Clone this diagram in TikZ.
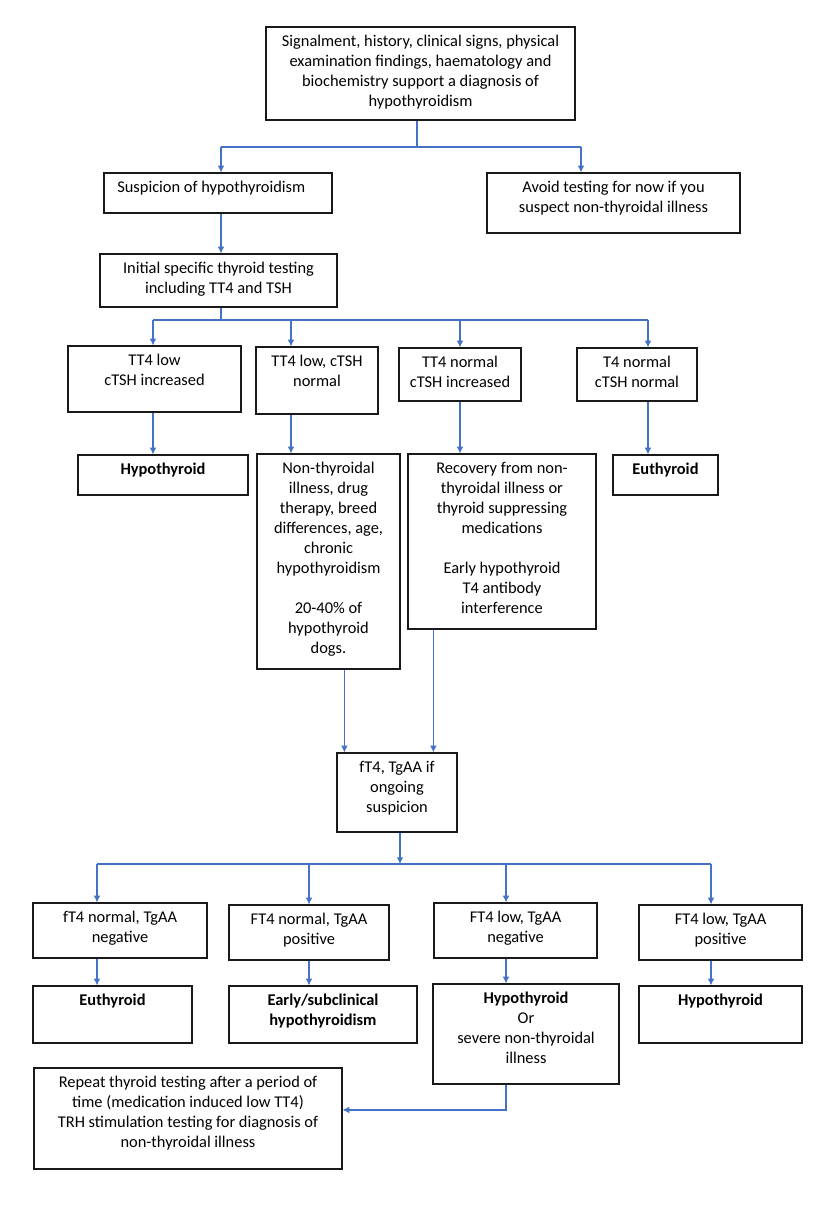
\documentclass[tikz,border=0pt]{standalone}
\usepackage{fontspec}
\setmainfont{Carlito}
\usepackage{tikz}
\usetikzlibrary{positioning,fit,arrows.meta}
\definecolor{flowblue}{RGB}{68,114,196}
\definecolor{boxline}{RGB}{25,25,25}

\begin{document}
\begin{tikzpicture}[
  x=0.75pt, y=-0.75pt,
  box/.style={draw=boxline,line width=0.9pt,inner sep=0pt},
  txt/.style={align=center,inner sep=0pt,font=\fontsize{12.3}{15}\selectfont},
  link/.style={draw=flowblue,line width=0.8pt},
  arr/.style={link,-{Latex[length=5pt,width=5pt]}}
]
  \useasboundingbox (0,0) rectangle (836,1208);

  % start and first split
  \node[box,fit={(266,27) (575,120)}] (signs) {};
  \node[txt,below=6.5pt of signs.north] (signs-t) {Signalment, history, clinical signs, physical\\examination findings, haematology and\\biochemistry support a diagnosis of\\hypothyroidism};
  \node[box,fit={(104,173) (332,213)}] (suspect) {};
  \node[txt,below=6.5pt of suspect.north,xshift=-5pt] (suspect-t) {Suspicion of hypothyroidism};
  \node[box,fit={(487,173) (740,233)}] (avoid) {};
  \node[txt,below=6.5pt of avoid.north] (avoid-t) {Avoid testing for now if you\\suspect non-thyroidal illness};
  \node[box,fit={(100,254) (337,307)}] (initial) {};
  \node[txt,below=6.5pt of initial.north] (initial-t) {Initial specific thyroid testing\\including TT4 and TSH};

  % TT4 / cTSH results
  \node[box,fit={(68,346) (241,412)}] (tlowhigh) {};
  \node[txt,below=6.5pt of tlowhigh.north] (tlowhigh-t) {TT4 low\\cTSH increased};
  \node[box,fit={(256,347) (378,414)}] (tlownorm) {};
  \node[txt,below=6.5pt of tlownorm.north] (tlownorm-t) {TT4 low, cTSH\\normal};
  \node[box,fit={(399,348) (521,401)}] (tnormhigh) {};
  \node[txt,below=6.5pt of tnormhigh.north] (tnormhigh-t) {TT4 normal\\cTSH increased};
  \node[box,fit={(577,348) (697,401)}] (tnormnorm) {};
  \node[txt,below=6.5pt of tnormnorm.north] (tnormnorm-t) {T4 normal\\cTSH normal};

  \node[box,fit={(78,455) (248,495)}] (hypo1) {};
  \node[txt,below=6.5pt of hypo1.north] (hypo1-t) {\textbf{Hypothyroid}};
  \node[box,fit={(257,454) (400,669)}] (causes) {};
  \node[txt,below=6.5pt of causes.north] (causes-t) {Non-thyroidal\\illness, drug\\therapy, breed\\differences, age,\\chronic\\hypothyroidism\\[15pt]20-40\% of\\hypothyroid\\dogs.};
  \node[box,fit={(408,454) (596,629)}] (recovery) {};
  \node[txt,below=6.5pt of recovery.north] (recovery-t) {Recovery from non-\\thyroidal illness or\\thyroid suppressing\\medications\\[15pt]Early hypothyroid\\T4 antibody\\interference};
  \node[box,fit={(613,455) (718,495)}] (euthyroid1) {};
  \node[txt,below=6.5pt of euthyroid1.north] (euthyroid1-t) {\textbf{Euthyroid}};

  % second line testing
  \node[box,fit={(337,753) (457,832)}] (ftest) {};
  \node[txt,below=6.5pt of ftest.north] (ftest-t) {fT4, TgAA if\\ongoing\\suspicion};

  \node[box,fit={(33,903) (207,958)}] (fnormneg) {};
  \node[txt,below=6.5pt of fnormneg.north] (fnormneg-t) {fT4 normal, TgAA\\negative};
  \node[box,fit={(229,905) (389,960)}] (fnormpos) {};
  \node[txt,below=6.5pt of fnormpos.north] (fnormpos-t) {FT4 normal, TgAA\\positive};
  \node[box,fit={(434,903) (597,958)}] (flowneg) {};
  \node[txt,below=6.5pt of flowneg.north] (flowneg-t) {FT4 low, TgAA\\negative};
  \node[box,fit={(639,905) (802,960)}] (flowpos) {};
  \node[txt,below=6.5pt of flowpos.north] (flowpos-t) {FT4 low, TgAA\\positive};

  \node[box,fit={(33,986) (192,1043)}] (euthyroid2) {};
  \node[txt,below=6.5pt of euthyroid2.north] (euthyroid2-t) {\textbf{Euthyroid}};
  \node[box,fit={(229,986) (417,1043)}] (early) {};
  \node[txt,below=6.5pt of early.north] (early-t) {\textbf{Early/subclinical}\\\textbf{hypothyroidism}};
  \node[box,fit={(433,984) (619,1084)}] (hypo2) {};
  \node[txt,below=6.5pt of hypo2.north] (hypo2-t) {\textbf{Hypothyroid}\\Or\\severe non-thyroidal\\illness};
  \node[box,fit={(639,986) (802,1043)}] (hypo3) {};
  \node[txt,below=6.5pt of hypo3.north] (hypo3-t) {\textbf{Hypothyroid}};

  \node[box,fit={(34,1068) (342,1169)}] (repeat) {};
  \node[txt,below=6.5pt of repeat.north] (repeat-t) {Repeat thyroid testing after a period of\\time (medication induced low TT4)\\TRH stimulation testing for diagnosis of\\non-thyroidal illness};

  % junctions
  \coordinate (j1) at (417,147);
  \coordinate (j1a) at (221,147);
  \coordinate (j1b) at (581,147);
  \coordinate (j2) at (221,320);
  \coordinate (j2a) at (153,320);
  \coordinate (j2b) at (291,320);
  \coordinate (j2c) at (460,320);
  \coordinate (j2d) at (648,320);
  \coordinate (j4) at (400,864);
  \coordinate (j4a) at (97,864);
  \coordinate (j4b) at (309,864);
  \coordinate (j4c) at (506,864);
  \coordinate (j4d) at (711,864);

  % connectors
  \draw[link] (signs.south -| j1) -- (j1);
  \draw[link] (j1a) -- (j1b);
  \draw[arr] (j1a) -- (j1a |- suspect.north);
  \draw[arr] (j1b) -- (j1b |- avoid.north);
  \draw[arr] (j1a |- suspect.south) -- (j1a |- initial.north);

  \draw[link] (initial.south -| j2) -- (j2);
  \draw[link] (j2a) -- (j2d);
  \foreach \j/\a/\b in {j2a/tlowhigh/hypo1,j2b/tlownorm/causes,j2c/tnormhigh/recovery,j2d/tnormnorm/euthyroid1}{
    \draw[arr] (\j) -- (\j |- \a.north);
    \draw[arr] (\j |- \a.south) -- (\j |- \b.north);
  }

  \draw[arr] ([xshift=6pt]ftest.north west |- causes.south) -- ([xshift=6pt]ftest.north west);
  \draw[arr] ([xshift=19.5pt]recovery.south west) -- ([xshift=19.5pt]recovery.south west |- ftest.north);

  \draw[arr] (ftest.south -| j4) -- (j4);
  \draw[link] (j4a) -- (j4d);
  \foreach \j/\a/\b in {j4a/fnormneg/euthyroid2,j4b/fnormpos/early,j4c/flowneg/hypo2,j4d/flowpos/hypo3}{
    \draw[arr] (\j) -- (\j |- \a.north);
    \draw[arr] (\j |- \a.south) -- (\j |- \b.north);
  }
  \draw[arr] (j4c |- hypo2.south) |- ([yshift=6.4pt]repeat.east);
\end{tikzpicture}
\end{document}
